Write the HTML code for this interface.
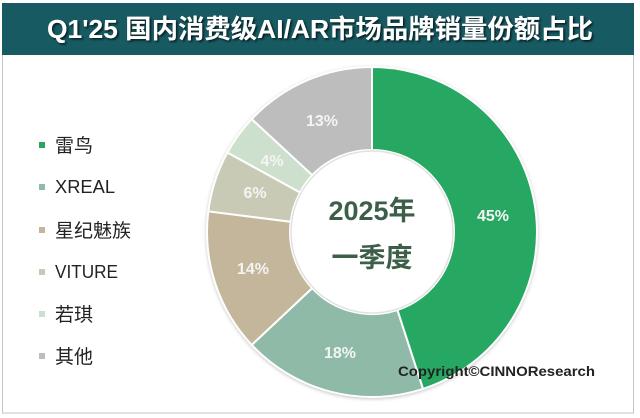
<!DOCTYPE html>
<html><head><meta charset="utf-8"><style>
html,body{margin:0;padding:0;background:#fff;}
body{width:640px;height:418px;overflow:hidden;position:relative;}
</style></head><body>
<svg width="640" height="418" viewBox="0 0 640 418" xmlns="http://www.w3.org/2000/svg" style="position:absolute;left:0;top:0">
<defs>
<filter id="sh" x="-10%" y="-10%" width="120%" height="120%">
<feDropShadow dx="0" dy="1" stdDeviation="2" flood-color="#000" flood-opacity="0.35"/>
</filter>
<filter id="tsh" x="-5%" y="-20%" width="110%" height="140%">
<feDropShadow dx="1.5" dy="1.5" stdDeviation="1" flood-color="#000" flood-opacity="0.7"/>
</filter>
</defs>
<rect x="0" y="0" width="640" height="418" fill="#fff"/>
<rect x="2.5" y="54.5" width="631" height="358.5" fill="#fff" stroke="#c4c4c4" stroke-width="1"/>
<rect x="2" y="3" width="632" height="52" fill="#175a62"/>
<text x="320" y="38" text-anchor="middle" textLength="546" lengthAdjust="spacingAndGlyphs" font-family="'Liberation Sans','Noto Sans CJK SC',sans-serif" font-weight="bold" font-size="26" fill="#fff" filter="url(#tsh)">Q1'25 国内消费级AI/AR市场品牌销量份额占比</text>

<g font-family="'Liberation Sans','Noto Sans CJK SC',sans-serif" font-size="19" fill="#222">
<rect x="39" y="142" width="6" height="6" fill="#27a862"/><text x="55" y="152">雷鸟</text>
<rect x="39" y="184" width="6" height="6" fill="#8fbaa8"/><text x="55" y="193" textLength="60" lengthAdjust="spacingAndGlyphs" font-size="18">XREAL</text>
<rect x="39" y="227" width="6" height="6" fill="#c4b69a"/><text x="55" y="237">星纪魅族</text>
<rect x="39" y="269" width="6" height="6" fill="#c9cab5"/><text x="55" y="278" textLength="63" lengthAdjust="spacingAndGlyphs" font-size="18">VITURE</text>
<rect x="39" y="311" width="6" height="6" fill="#cde0cd"/><text x="55" y="321">若琪</text>
<rect x="39" y="353" width="6" height="6" fill="#bdbdbd"/><text x="55" y="363">其他</text>
</g>

<circle cx="372" cy="232" r="165" fill="#ddd" filter="url(#sh)"/>
<g stroke="#fff" stroke-width="2" stroke-linejoin="round">
<path d="M372,67 A165,165 0 0 1 422.99,388.92 L397.34,309.99 A82,82 0 0 0 372,150 Z" fill="#27a862"/>
<path d="M422.99,388.92 A165,165 0 0 1 251.72,344.95 L312.22,288.13 A82,82 0 0 0 397.34,309.99 Z" fill="#8fbaa8"/>
<path d="M251.72,344.95 A165,165 0 0 1 208.30,211.32 L290.65,221.72 A82,82 0 0 0 312.22,288.13 Z" fill="#c4b69a"/>
<path d="M208.30,211.32 A165,165 0 0 1 227.41,152.51 L300.14,192.50 A82,82 0 0 0 290.65,221.72 Z" fill="#c9cab5"/>
<path d="M227.41,152.51 A165,165 0 0 1 251.72,119.05 L312.22,175.05 A82,82 0 0 0 300.14,192.50 Z" fill="#cde0cd"/>
<path d="M251.72,119.05 A165,165 0 0 1 372,67 L372,150 A82,82 0 0 0 312.22,175.05 Z" fill="#bdbdbd"/>
</g>
<circle cx="372" cy="232" r="81" fill="#fff" stroke="#e2e2e2" stroke-width="1.5"/>

<g font-family="'Liberation Sans',sans-serif" font-weight="bold" font-size="16" fill="#f4f4f4" text-anchor="middle">
<text x="493" y="221">45%</text>
<text x="340" y="358">18%</text>
<text x="253" y="274">14%</text>
<text x="255" y="198">6%</text>
<text x="272" y="166">4%</text>
<text x="322" y="126">13%</text>
</g>

<g font-family="'Liberation Sans','Noto Sans CJK SC',sans-serif" font-weight="bold" font-size="27" fill="#3d5f4a" text-anchor="middle">
<text x="372" y="220">2025年</text>
<text x="372" y="267">一季度</text>
</g>

<text x="398" y="376" textLength="197" lengthAdjust="spacingAndGlyphs" font-family="'Liberation Sans',sans-serif" font-weight="bold" font-size="14" fill="#222">Copyright©CINNOResearch</text>
</svg>
</body></html>
